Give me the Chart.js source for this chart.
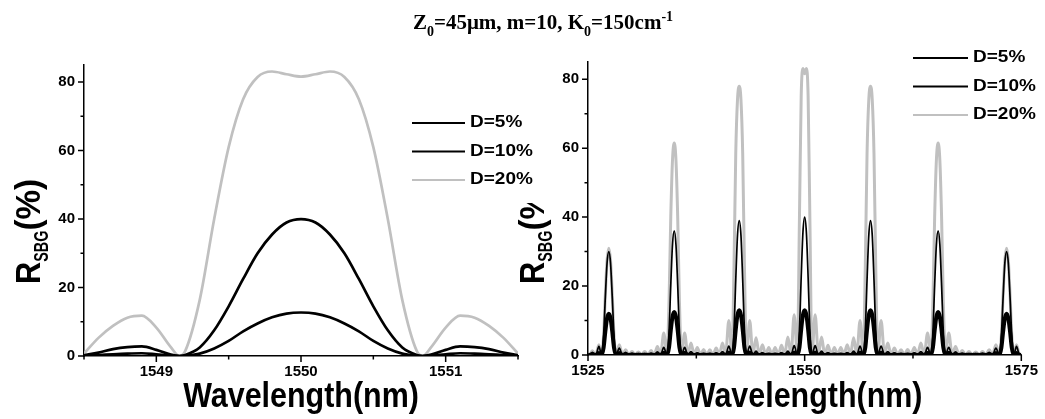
<!DOCTYPE html>
<html>
<head>
<meta charset="utf-8">
<script src="https://cdn.jsdelivr.net/npm/chart.js@4.4.1/dist/chart.umd.min.js"></script>
<style>
  html, body { margin: 0; padding: 0; background: #fff; }
  #wrap { position: relative; width: 1045px; height: 419px; overflow: hidden; }
  #wrap canvas { position: absolute; top: 0; }
  #title {
    position: absolute; top: 12px; left: 0; width: 1086px; text-align: center;
    font: bold 21px 'Liberation Serif', 'Times New Roman', serif; line-height: 21px; white-space: nowrap;
  }
  #title sub, #title sup { font-size: 14px; line-height: 0; position: relative; vertical-align: baseline; }
  #title sub { top: 7px; }
  #title sup { top: -8px; }
</style>
</head>
<body>
<div id="wrap">
  <canvas id="rightChart" width="585" height="419" style="left:460px"></canvas>
  <canvas id="leftChart" width="560" height="419" style="left:0px"></canvas>
  <div id="title">Z<sub>0</sub>=45μm, m=10, K<sub>0</sub>=150cm<sup>-1</sup></div>
</div>
<script>
// ---- data ----
const seriesLabels = ["D=5%", "D=10%", "D=20%"];
const yTicks = [0, 20, 40, 60, 80];
const yMinor = [10, 30, 50, 70];

// left panel: zoom on the 1550 nm channel
const leftXTicks = [1549, 1550, 1551];
const leftXMinor = [1548.5, 1549.5, 1550.5, 1551.5];
const leftWl = [1548.5, 1548.6, 1548.7, 1548.8, 1548.9, 1549.0, 1549.1, 1549.16, 1549.2, 1549.3, 1549.4,
  1549.5, 1549.6, 1549.7, 1549.8, 1549.9, 1550.0, 1550.1, 1550.2, 1550.3, 1550.4, 1550.5, 1550.6,
  1550.7, 1550.8, 1550.84, 1550.9, 1551.0, 1551.1, 1551.2, 1551.3, 1551.4, 1551.5];
const leftD5 = [0.05, 0.25, 0.5, 0.7, 0.8, 0.5, 0.15, 0, 0.1, 0.7, 2.2, 4.4, 7.2, 9.5, 11.3, 12.4, 12.7,
  12.4, 11.3, 9.5, 7.2, 4.4, 2.2, 0.7, 0.1, 0, 0.15, 0.5, 0.8, 0.7, 0.5, 0.25, 0.05];
const leftD10 = [0.2, 1, 2, 2.6, 2.8, 1.8, 0.4, 0, 0.3, 2.5, 7.5, 14.5, 22.5, 30, 35.5, 39, 40,
  39, 35.5, 30, 22.5, 14.5, 7.5, 2.5, 0.3, 0, 0.4, 1.8, 2.8, 2.6, 2, 1, 0.2];
const leftD20 = [0.7, 5.3, 8.8, 11.2, 11.8, 8.3, 2.6, 0, 1.5, 16.4, 40, 61, 75, 81.5, 83.1, 82.3, 81.6,
  82.3, 83.1, 81.5, 75, 61, 40, 16.4, 1.5, 0, 2.6, 8.3, 11.8, 11.2, 8.8, 5.3, 0.7];

// right panel: the whole comb
const rightXTicks = [1525, 1550, 1575];
const rightXMinor = [1537.5, 1562.5];
const rightWl = [
  1525, 1525.15, 1525.5, 1525.9, 1526.26,
  1526.56, 1526.8, 1527.0, 1527.2, 1527.4, 1527.6, 1527.8, 1528.0, 1528.24,
  1528.61, 1528.97, 1529.34, 1529.71, 1530.08, 1530.44, 1530.81, 1531.18, 1531.54, 1531.91, 1532.28, 1532.64, 1533.01, 1533.38, 1533.74,
  1534.11, 1534.35, 1534.55, 1534.75, 1534.95, 1535.15, 1535.35, 1535.55, 1535.79,
  1536.15, 1536.52, 1536.88, 1537.25, 1537.61, 1537.97, 1538.34, 1538.70, 1539.06, 1539.43, 1539.79, 1540.16, 1540.52, 1540.88, 1541.25,
  1541.61, 1541.85, 1542.05, 1542.25, 1542.45, 1542.65, 1542.85, 1543.05, 1543.29,
  1543.66, 1544.02, 1544.39, 1544.76, 1545.13, 1545.49, 1545.86, 1546.23, 1546.59, 1546.96, 1547.33, 1547.69, 1548.06, 1548.43, 1548.79,
  1549.16, 1549.4, 1549.6, 1549.8, 1550, 1550.2, 1550.4, 1550.6, 1550.84,
  1551.21, 1551.58, 1551.95, 1552.32, 1552.69, 1553.06, 1553.43, 1553.8, 1554.17, 1554.54, 1554.91, 1555.28, 1555.65, 1556.02, 1556.39,
  1556.76, 1557.0, 1557.2, 1557.4, 1557.6, 1557.8, 1558.0, 1558.2, 1558.44,
  1558.82, 1559.21, 1559.59, 1559.97, 1560.35, 1560.74, 1561.12, 1561.5, 1561.88, 1562.27, 1562.65, 1563.03, 1563.41, 1563.8, 1564.18,
  1564.56, 1564.8, 1565.0, 1565.2, 1565.4, 1565.6, 1565.8, 1566.0, 1566.24,
  1566.63, 1567.02, 1567.41, 1567.8, 1568.18, 1568.57, 1568.96, 1569.35, 1569.74, 1570.13, 1570.52, 1570.91, 1571.29, 1571.68, 1572.07,
  1572.46, 1572.7, 1572.9, 1573.1, 1573.3, 1573.5, 1573.7, 1573.9, 1574.14,
  1574.44, 1574.8, 1575
];
const rightD5 = [
  0.05, 0, 0.2, 0, 0.6,
  0, 2.1, 6.8, 10.7, 12, 10.7, 6.8, 2.1, 0,
  0.6, 0, 0.25, 0, 0.15, 0, 0.1, 0, 0.1, 0, 0.15, 0, 0.25, 0, 0.65,
  0, 2.2, 7.1, 11.1, 12.5, 11.1, 7.1, 2.2, 0,
  0.65, 0, 0.25, 0, 0.15, 0, 0.1, 0, 0.1, 0, 0.15, 0, 0.25, 0, 0.7,
  0, 2.2, 7.4, 11.6, 13, 11.6, 7.4, 2.2, 0,
  0.7, 0, 0.3, 0, 0.15, 0, 0.1, 0, 0.1, 0, 0.15, 0, 0.3, 0, 0.75,
  0, 2.2, 7.4, 11.6, 13, 11.6, 7.4, 2.2, 0,
  0.75, 0, 0.3, 0, 0.15, 0, 0.1, 0, 0.1, 0, 0.15, 0, 0.3, 0, 0.7,
  0, 2.2, 7.4, 11.6, 13, 11.6, 7.4, 2.2, 0,
  0.7, 0, 0.25, 0, 0.15, 0, 0.1, 0, 0.1, 0, 0.15, 0, 0.25, 0, 0.65,
  0, 2.2, 7.1, 11.1, 12.5, 11.1, 7.1, 2.2, 0,
  0.65, 0, 0.25, 0, 0.15, 0, 0.1, 0, 0.1, 0, 0.15, 0, 0.25, 0, 0.6,
  0, 2.1, 6.8, 10.7, 12, 10.7, 6.8, 2.1, 0,
  0.6, 0, 0.05
];
const rightD10 = [
  0.2, 0, 0.8, 0, 2.5,
  0, 5.7, 16.8, 26.7, 30, 26.7, 16.8, 5.7, 0,
  2, 0, 0.8, 0, 0.5, 0, 0.4, 0, 0.4, 0, 0.5, 0, 0.9, 0, 2.2,
  0, 6.8, 20.2, 32, 36, 32, 20.2, 6.8, 0,
  2.2, 0, 1, 0, 0.6, 0, 0.5, 0, 0.5, 0, 0.6, 0, 1, 0, 2.6,
  0, 7.4, 21.8, 34.7, 39, 34.7, 21.8, 7.4, 0,
  2.6, 0, 1.1, 0, 0.7, 0, 0.5, 0, 0.5, 0, 0.7, 0, 1.1, 0, 2.7,
  0, 7.5, 22.5, 35.5, 40, 35.5, 22.5, 7.5, 0,
  2.7, 0, 1.1, 0, 0.7, 0, 0.5, 0, 0.5, 0, 0.7, 0, 1.1, 0, 2.6,
  0, 7.4, 21.8, 34.7, 39, 34.7, 21.8, 7.4, 0,
  2.6, 0, 1, 0, 0.6, 0, 0.5, 0, 0.5, 0, 0.6, 0, 1, 0, 2.2,
  0, 6.8, 20.2, 32, 36, 32, 20.2, 6.8, 0,
  2.2, 0, 0.9, 0, 0.5, 0, 0.4, 0, 0.4, 0, 0.5, 0, 0.8, 0, 2,
  0, 5.7, 16.8, 26.7, 30, 26.7, 16.8, 5.7, 0,
  2.5, 0, 0.3
];
const rightD20 = [
  0.3, 0, 1.2, 0, 3,
  0, 5.8, 17.5, 27.5, 31, 27.5, 17.5, 5.8, 0,
  3, 0.1, 1.5, 0.1, 1, 0.1, 0.9, 0.1, 1, 0.1, 1.3, 0.1, 2.5, 0.1, 6.4,
  0, 15.5, 40, 56.5, 61.5, 56.5, 40, 15.5, 0,
  6.4, 0.1, 3.5, 0.1, 2.2, 0.1, 1.6, 0.1, 1.5, 0.1, 2, 0.1, 3.5, 0.1, 10,
  0, 26, 58.5, 74, 78, 74, 58.5, 26, 0,
  10, 0.1, 5, 0.1, 3, 0.1, 2.2, 0.1, 2.2, 0.1, 2.8, 0.1, 5.2, 0.1, 11.7,
  0, 40, 75, 83.1, 81.6, 83.1, 75, 40, 0,
  11.7, 0.1, 5.2, 0.1, 2.8, 0.1, 2.2, 0.1, 2.2, 0.1, 3, 0.1, 5, 0.1, 10,
  0, 26, 58.5, 74, 78, 74, 58.5, 26, 0,
  10, 0.1, 3.5, 0.1, 2, 0.1, 1.5, 0.1, 1.6, 0.1, 2.2, 0.1, 3.5, 0.1, 6.4,
  0, 15.5, 40, 56.5, 61.5, 56.5, 40, 15.5, 0,
  6.4, 0.1, 2.5, 0.1, 1.3, 0.1, 1, 0.1, 0.9, 0.1, 1, 0.1, 1.5, 0.1, 3,
  0, 5.8, 17.5, 27.5, 31, 27.5, 17.5, 5.8, 0,
  3, 0, 0.4
];

const FONT = "'Liberation Sans', Arial, sans-serif";
const GREY = "#c0c0c0";
Chart.defaults.font.family = FONT;
Chart.defaults.color = "#000";

// text pieces of the axis titles (subscript handled by size/offset)
const xTitleParts = [{ text: "Wavelength(nm)", size: 35, sx: 0.87 }];
const yTitleParts = [
  { text: "R", size: 35, sx: 0.88 },
  { text: "SBG", size: 20, sx: 0.72, dy: 8 },
  { text: "(%)", size: 35, sx: 0.95 }
];

function richWidth(ctx, parts) {
  let w = 0;
  parts.forEach(p => {
    ctx.font = `bold ${p.size}px ${FONT}`;
    w += ctx.measureText(p.text).width * p.sx;
  });
  return w;
}

function drawRich(ctx, parts, x, y) {
  let cx = x;
  parts.forEach(p => {
    ctx.font = `bold ${p.size}px ${FONT}`;
    const w = ctx.measureText(p.text).width * p.sx;
    ctx.save();
    ctx.translate(cx, y + (p.dy || 0));
    ctx.scale(p.sx, 1);
    ctx.fillText(p.text, 0, 0);
    ctx.restore();
    cx += w;
  });
}

// major/minor tick marks pointing outwards
const tickMarks = {
  id: "tickMarks",
  afterDraw(chart, args, o) {
    const { ctx } = chart;
    const xs = chart.scales.x, ys = chart.scales.y;
    ctx.save();
    ctx.strokeStyle = "#000";
    ctx.lineWidth = 1.5;
    ctx.beginPath();
    const xt = (v, len) => { const px = xs.getPixelForValue(v); ctx.moveTo(px, xs.top); ctx.lineTo(px, xs.top + len); };
    const yt = (v, len) => { const py = ys.getPixelForValue(v); ctx.moveTo(ys.right, py); ctx.lineTo(ys.right - len, py); };
    o.xMajor.forEach(v => xt(v, 6));
    o.xMinor.forEach(v => xt(v, 3.5));
    yTicks.forEach(v => yt(v, 6));
    yMinor.forEach(v => yt(v, 3.5));
    ctx.stroke();
    ctx.restore();
  }
};

const axisTitles = {
  id: "axisTitles",
  afterDraw(chart, args, o) {
    const { ctx, chartArea: a } = chart;
    ctx.save();
    ctx.fillStyle = "#000";
    ctx.textBaseline = "alphabetic";
    const w = richWidth(ctx, xTitleParts);
    drawRich(ctx, xTitleParts, (a.left + a.right) / 2 - w / 2, 407);
    ctx.beginPath();
    ctx.rect(0, o.clipTop || 0, chart.width, chart.height);
    ctx.clip();
    ctx.translate(a.left - 44, 284);
    ctx.rotate(-Math.PI / 2);
    drawRich(ctx, yTitleParts, 0, 0);
    ctx.restore();
  }
};

const lineLegend = {
  id: "lineLegend",
  afterDraw(chart, args, o) {
    const { ctx } = chart;
    ctx.save();
    chart.data.datasets.forEach((ds, i) => {
      const y = o.top + i * o.gap;
      ctx.strokeStyle = ds.borderColor;
      ctx.lineWidth = 2;
      ctx.beginPath();
      ctx.moveTo(o.x0, y);
      ctx.lineTo(o.x1, y);
      ctx.stroke();
      ctx.fillStyle = "#000";
      ctx.font = `bold 19px ${FONT}`;
      ctx.textBaseline = "middle";
      ctx.save();
      ctx.translate(o.x1 + 5, y);
      ctx.scale(1, 0.82);
      ctx.fillText(ds.label, 0, 0);
      ctx.restore();
    });
    ctx.restore();
  }
};

function makeSet(label, xs, ys, color, width) {
  return {
    label,
    data: xs.map((x, i) => ({ x, y: ys[i] })),
    borderColor: color,
    borderWidth: width,
    pointRadius: 0,
    fill: false,
    cubicInterpolationMode: "monotone"
  };
}

function makeChart(id, cfg) {
  return new Chart(document.getElementById(id), {
    type: "line",
    data: { datasets: cfg.datasets },
    options: {
      responsive: false,
      devicePixelRatio: 1,
      animation: false,
      events: [],
      layout: { padding: cfg.padding },
      plugins: {
        legend: { display: false },
        tooltip: { enabled: false },
        tickMarks: { xMajor: cfg.xTicks, xMinor: cfg.xMinor },
        axisTitles: { clipTop: cfg.clipTop },
        lineLegend: cfg.legend
      },
      scales: {
        x: {
          type: "linear",
          min: cfg.xMin,
          max: cfg.xMax,
          afterBuildTicks: s => { s.ticks = cfg.xTicks.map(v => ({ value: v })); },
          afterFit: s => { s.height = 40; },
          ticks: { autoSkip: false, maxRotation: 0, padding: 7, font: { size: 15, weight: "bold" }, callback: v => String(v) },
          grid: { drawOnChartArea: false, drawTicks: false },
          border: { color: "#000", width: 1.5 }
        },
        y: {
          min: 0,
          max: 85,
          afterBuildTicks: s => { s.ticks = yTicks.map(v => ({ value: v })); },
          afterFit: s => { s.width = 60; },
          ticks: { padding: 9, font: { size: 15, weight: "bold" }, callback: v => String(v) },
          grid: { drawOnChartArea: false, drawTicks: false },
          border: { color: "#000", width: 1.5 }
        }
      }
    },
    plugins: [tickMarks, axisTitles, lineLegend]
  });
}

makeChart("rightChart", {
  datasets: [
    makeSet(seriesLabels[0], rightWl, rightD5, "#000", 4),
    makeSet(seriesLabels[1], rightWl, rightD10, "#000", 1.7),
    makeSet(seriesLabels[2], rightWl, rightD20, GREY, 3)
  ],
  padding: { left: 68, right: 20, top: 62, bottom: 24 },
  xMin: 1525, xMax: 1575, xTicks: rightXTicks, xMinor: rightXMinor,
  clipTop: 203,
  legend: { x0: 453, x1: 508, top: 58, gap: 28.5 }
});

makeChart("leftChart", {
  datasets: [
    makeSet(seriesLabels[0], leftWl, leftD5, "#000", 2.7),
    makeSet(seriesLabels[1], leftWl, leftD10, "#000", 2.7),
    makeSet(seriesLabels[2], leftWl, leftD20, GREY, 2.7)
  ],
  padding: { left: 24, right: 42, top: 65, bottom: 23 },
  xMin: 1548.5, xMax: 1551.5, xTicks: leftXTicks, xMinor: leftXMinor,
  clipTop: 0,
  legend: { x0: 412, x1: 465, top: 123, gap: 28.5 }
});
</script>
</body>
</html>
